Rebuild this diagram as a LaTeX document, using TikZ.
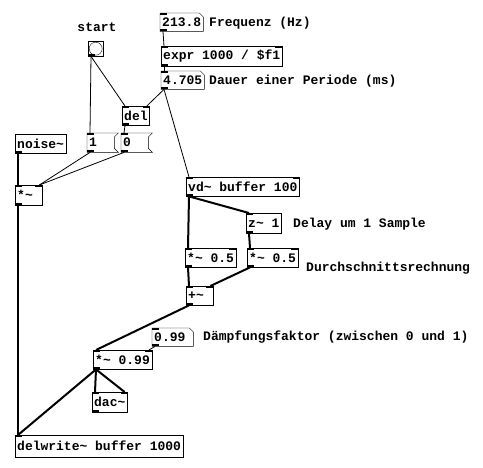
\documentclass[tikz,border=0pt]{standalone}
\usepackage{fontspec}
\newfontfamily\pdfont{Liberation Mono}
\usetikzlibrary{calc, positioning}

% outlines of number and message boxes
\newcommand{\pdatom}[1]{\draw (#1.north west) -- ([xshift=-4pt]#1.north east) -- ([yshift=-4pt]#1.north east) -- (#1.south east) -- (#1.south west) -- cycle;}
\newcommand{\pdmsg}[1]{\draw (#1.north west) -- ([xshift=4pt]#1.north east) -- ([yshift=-4pt]#1.north east) -- ([yshift=4pt]#1.south east) -- ([xshift=4pt]#1.south east) -- (#1.south west) -- cycle;}
% inlets and outlets
\newcommand{\pdin}[1]{\fill (#1.north west) rectangle ++(7,2);}
\newcommand{\pdinr}[1]{\fill (#1.north east) rectangle ++(-7,2);}
\newcommand{\pdout}[1]{\fill (#1.south west) rectangle ++(7,-2);}

\begin{document}
\begin{tikzpicture}[x=1pt, y=-1pt,
  obj/.style={draw, fill=white, anchor=north west, inner xsep=2pt, inner ysep=0pt, minimum height=20pt, font=\pdfont\bfseries\fontsize{13}{14}\selectfont},
  short/.style={text width=23pt, align=left},
  atom/.style={obj, draw=none, fill=none, minimum height=18pt},
  msg/.style={obj, draw=none, fill=none, short, minimum height=19pt},
  lbl/.style={font=\pdfont\bfseries\fontsize{13}{14}\selectfont, inner sep=0pt},
  ctl/.style={line width=0.8pt},
  sig/.style={line width=2pt}]
\useasboundingbox[fill=white] (0,0) rectangle (483,468);

% control part
\node[lbl] (startlbl) at (97,27) {start};
\node[draw, minimum size=15pt, inner sep=0pt, anchor=north west] (bang) at (88,41) {};
\draw (bang.center) circle (6.5);
\node[atom] (freq) at (160,13) {213.8};
\node[lbl, anchor=west] (freqlbl) at (209,23) {Frequenz (Hz)};
\node[obj] (expr) at (161,46) {expr 1000 / \$f1};
\node[atom] (per) at (161,71) {4.705};
\node[lbl, anchor=west] (perlbl) at (209,81) {Dauer einer Periode (ms)};
\node[obj, minimum height=19pt] (del) at (122,106) {del};
\node[msg] (one) at (87,133) {1};
\node[msg] (zero) at (121,133) {0};
\pdatom{freq}
\pdatom{per}
\pdmsg{one}
\pdmsg{zero}

% signal part
\node[obj, minimum height=19pt] (noise) at (15,134) {noise\textasciitilde};
\node[obj, short] (env) at (15,185) {*\textasciitilde};
\node[obj, minimum height=19pt] (vd) at (186,177) {vd\textasciitilde{} buffer 100};
\node[obj] (zdel) at (246,213) {z\textasciitilde{} 1};
\node[lbl, anchor=west] (zlbl) at (293,224) {Delay um 1 Sample};
\node[obj, minimum height=19pt] (halfl) at (185,248) {*\textasciitilde{} 0.5};
\node[obj, minimum height=19pt] (halfr) at (247,248) {*\textasciitilde{} 0.5};
\node[lbl, anchor=west] (avglbl) at (306,268) {Durchschnittsrechnung};
\node[obj, short, minimum height=19pt] (sum) at (186,286) {+\textasciitilde};
\node[atom, text width=37pt, align=left] (damp) at (152,328) {0.99};
\node[lbl, anchor=west] (damplbl) at (203,337) {Dämpfungsfaktor (zwischen 0 und 1)};
\node[obj, minimum height=19pt] (fb) at (93,350) {*\textasciitilde{} 0.99};
\node[obj] (dac) at (92,392) {dac\textasciitilde};
\node[obj, minimum height=22pt] (dw) at (15,435) {delwrite\textasciitilde{} buffer 1000};
\pdatom{damp}

% control connections
\draw[ctl] ([xshift=3pt]freq.south west) -- ([xshift=3pt]expr.north west);
\draw[ctl] ([xshift=3pt]expr.south west) -- ([xshift=3pt]per.north west);
\draw[ctl] ([xshift=3pt]per.south west) -- ([xshift=-3pt]del.north east);
\draw[ctl] ([xshift=3pt]per.south west) -- ([xshift=3pt]vd.north west);
\draw[ctl] ([xshift=3pt]bang.south west) -- ([xshift=3pt]one.north west);
\draw[ctl] ([xshift=3pt]bang.south west) -- ([xshift=3pt]del.north west);
\draw[ctl] ([xshift=3pt]del.south west) -- ([xshift=3pt]zero.north west);
\draw[ctl] ([xshift=3pt]one.south west) -- ([xshift=-3pt]env.north east);
\draw[ctl] ([xshift=3pt]zero.south west) -- ([xshift=-3pt]env.north east);
\draw[ctl] ([xshift=3pt]damp.south west) -- ([xshift=-3pt]fb.north east);

% signal connections
\draw[sig] ([xshift=3pt]noise.south west) -- ([xshift=3pt]env.north west);
\draw[sig] ([xshift=3pt]env.south west) -- ([xshift=3pt]dw.north west);
\draw[sig] ([xshift=3pt]vd.south west) -- ([xshift=3pt]halfl.north west);
\draw[sig] ([xshift=3pt]vd.south west) -- ([xshift=3pt]zdel.north west);
\draw[sig] ([xshift=3pt]zdel.south west) -- ([xshift=3pt]halfr.north west);
\draw[sig] ([xshift=3pt]halfl.south west) -- ([xshift=3pt]sum.north west);
\draw[sig] ([xshift=3pt]halfr.south west) -- ([xshift=-3pt]sum.north east);
\draw[sig] ([xshift=3pt]sum.south west) -- ([xshift=3pt]fb.north west);
\draw[sig] ([xshift=3pt]fb.south west) -- ([xshift=3pt]dac.north west);
\draw[sig] ([xshift=3pt]fb.south west) -- ([xshift=-3pt]dac.north east);
\draw[sig] ([xshift=3pt]fb.south west) -- ([xshift=3pt]dw.north west);

% inlets and outlets
\foreach \n in {bang, freq, expr, per, del, one, zero, noise, env, vd, zdel, halfl, halfr, sum, damp, fb, dac}
  {\pdout{\n}}
\foreach \n in {freq, expr, per, del, one, zero, env, vd, zdel, halfl, halfr, sum, damp, fb, dac, dw}
  {\pdin{\n}}
\foreach \n in {expr, del, env, vd, halfl, halfr, sum, fb, dac}
  {\pdinr{\n}}
\end{tikzpicture}
\end{document}
